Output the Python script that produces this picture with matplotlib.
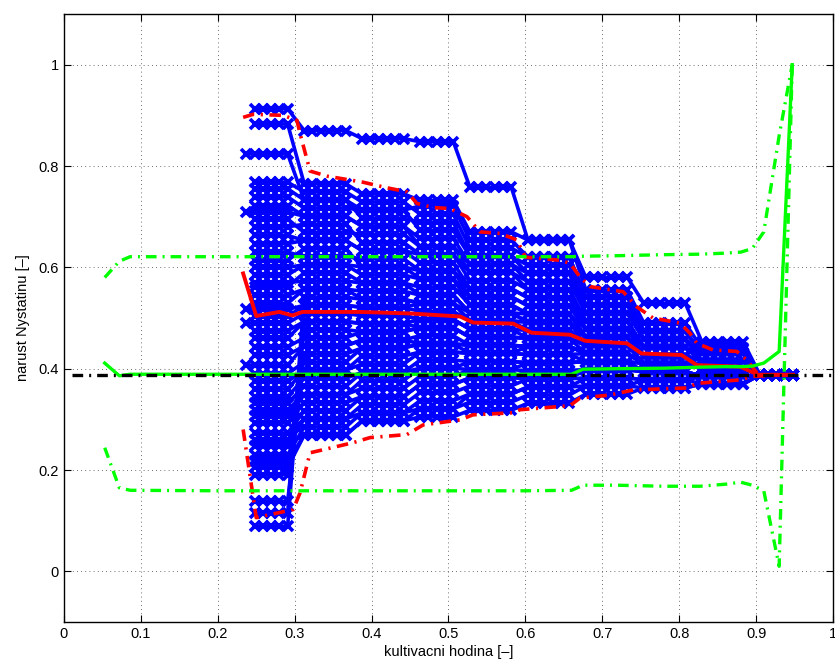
import numpy as np
import matplotlib
matplotlib.use("Agg")
import matplotlib.pyplot as plt

# sampling times of the measured trajectories
t = np.linspace(0.237, 0.948, 67)

# plateaus of the trajectories, as (first, last) sample index
bands = [(1, 5), (7, 12), (14, 19), (21, 25), (27, 32), (34, 39),
         (41, 46), (48, 53), (55, 60), (62, 66)]

end_level = 0.388
early_start = [2, 7, 20, 22, 27]

# level of every blue trajectory on each plateau (last plateau = end_level)
blue_levels = [
    [0.913, 0.870, 0.854, 0.848, 0.758, 0.654, 0.580, 0.529, 0.453],
    [0.883, 0.765, 0.745, 0.732, 0.670, 0.654, 0.555, 0.490, 0.440],
    [0.824, 0.733, 0.713, 0.721, 0.654, 0.620, 0.542, 0.474, 0.430],
    [0.768, 0.749, 0.729, 0.705, 0.638, 0.620, 0.542, 0.474, 0.430],
    [0.755, 0.733, 0.697, 0.689, 0.622, 0.604, 0.526, 0.474, 0.430],
    [0.739, 0.717, 0.713, 0.673, 0.622, 0.588, 0.526, 0.458, 0.430],
    [0.722, 0.701, 0.681, 0.657, 0.606, 0.588, 0.510, 0.458, 0.430],
    [0.709, 0.701, 0.681, 0.641, 0.606, 0.572, 0.510, 0.458, 0.415],
    [0.695, 0.669, 0.665, 0.641, 0.590, 0.572, 0.510, 0.458, 0.415],
    [0.680, 0.685, 0.649, 0.625, 0.590, 0.556, 0.494, 0.442, 0.415],
    [0.663, 0.653, 0.633, 0.625, 0.574, 0.556, 0.494, 0.442, 0.415],
    [0.647, 0.653, 0.633, 0.609, 0.558, 0.540, 0.494, 0.442, 0.415],
    [0.630, 0.621, 0.617, 0.593, 0.558, 0.540, 0.478, 0.442, 0.415],
    [0.614, 0.637, 0.601, 0.593, 0.542, 0.524, 0.478, 0.442, 0.415],
    [0.600, 0.605, 0.601, 0.577, 0.542, 0.524, 0.478, 0.442, 0.415],
    [0.585, 0.605, 0.585, 0.577, 0.526, 0.508, 0.478, 0.426, 0.415],
    [0.570, 0.573, 0.569, 0.561, 0.526, 0.508, 0.462, 0.426, 0.415],
    [0.562, 0.589, 0.569, 0.545, 0.510, 0.508, 0.462, 0.426, 0.400],
    [0.545, 0.557, 0.553, 0.545, 0.510, 0.492, 0.462, 0.426, 0.400],
    [0.529, 0.557, 0.537, 0.529, 0.510, 0.492, 0.462, 0.426, 0.400],
    [0.517, 0.525, 0.521, 0.529, 0.494, 0.492, 0.446, 0.426, 0.400],
    [0.503, 0.525, 0.521, 0.513, 0.494, 0.476, 0.446, 0.426, 0.400],
    [0.490, 0.509, 0.505, 0.497, 0.478, 0.476, 0.446, 0.426, 0.400],
    [0.475, 0.493, 0.489, 0.497, 0.478, 0.460, 0.446, 0.410, 0.400],
    [0.460, 0.493, 0.489, 0.481, 0.462, 0.460, 0.446, 0.410, 0.400],
    [0.443, 0.461, 0.473, 0.481, 0.462, 0.460, 0.430, 0.410, 0.400],
    [0.427, 0.445, 0.457, 0.465, 0.446, 0.444, 0.430, 0.410, 0.400],
    [0.407, 0.445, 0.457, 0.449, 0.446, 0.444, 0.430, 0.410, 0.400],
    [0.390, 0.413, 0.441, 0.449, 0.430, 0.444, 0.430, 0.410, 0.400],
    [0.375, 0.397, 0.425, 0.433, 0.430, 0.428, 0.430, 0.410, 0.400],
    [0.360, 0.397, 0.409, 0.433, 0.430, 0.428, 0.414, 0.410, 0.400],
    [0.345, 0.381, 0.393, 0.417, 0.414, 0.412, 0.414, 0.410, 0.400],
    [0.332, 0.365, 0.393, 0.401, 0.414, 0.412, 0.414, 0.394, 0.385],
    [0.319, 0.349, 0.377, 0.401, 0.398, 0.412, 0.414, 0.394, 0.385],
    [0.306, 0.349, 0.361, 0.385, 0.398, 0.396, 0.398, 0.394, 0.385],
    [0.293, 0.333, 0.345, 0.369, 0.382, 0.396, 0.398, 0.394, 0.385],
    [0.273, 0.317, 0.345, 0.369, 0.382, 0.380, 0.398, 0.394, 0.385],
    [0.260, 0.301, 0.329, 0.353, 0.366, 0.380, 0.382, 0.378, 0.385],
    [0.247, 0.301, 0.313, 0.337, 0.350, 0.364, 0.382, 0.378, 0.385],
    [0.230, 0.285, 0.313, 0.321, 0.350, 0.364, 0.366, 0.378, 0.370],
    [0.217, 0.269, 0.297, 0.321, 0.334, 0.348, 0.366, 0.362, 0.370],
    [0.205, 0.269, 0.297, 0.305, 0.318, 0.332, 0.350, 0.362, 0.370],
    [0.191, 0.477, 0.473, 0.481, 0.462, 0.460, 0.446, 0.426, 0.400],
    [0.138, 0.429, 0.441, 0.449, 0.446, 0.444, 0.430, 0.410, 0.400],
    [0.115, 0.541, 0.537, 0.529, 0.494, 0.492, 0.462, 0.426, 0.400],
    [0.089, 0.509, 0.505, 0.497, 0.478, 0.476, 0.446, 0.426, 0.415],
]

red_mean_x = [0.233, 0.250, 0.280, 0.297, 0.310, 0.385, 0.450, 0.515, 0.532, 0.584,
              0.608, 0.658, 0.678, 0.732, 0.751, 0.803, 0.823, 0.879, 0.903, 0.948]
red_mean_y = [0.588, 0.504, 0.512, 0.505, 0.512, 0.512, 0.509, 0.503, 0.491, 0.489,
              0.471, 0.467, 0.455, 0.450, 0.430, 0.427, 0.407, 0.404, 0.388, 0.388]

red_hi_x = [0.233, 0.246, 0.285, 0.303, 0.307, 0.320, 0.342, 0.389, 0.420, 0.446, 0.459,
            0.480, 0.502, 0.524, 0.541, 0.567, 0.589, 0.600, 0.645, 0.658, 0.671, 0.684,
            0.727, 0.745, 0.766, 0.801, 0.814, 0.823, 0.844, 0.875, 0.888, 0.903, 0.948]
red_hi_y = [0.896, 0.902, 0.900, 0.890, 0.864, 0.790, 0.780, 0.768, 0.757, 0.749, 0.726,
            0.718, 0.716, 0.700, 0.670, 0.667, 0.654, 0.620, 0.614, 0.608, 0.581, 0.562,
            0.552, 0.522, 0.500, 0.490, 0.470, 0.450, 0.437, 0.434, 0.417, 0.388, 0.388]

red_lo_x = [0.233, 0.250, 0.298, 0.307, 0.320, 0.337, 0.376, 0.398, 0.446, 0.467, 0.515,
            0.532, 0.584, 0.593, 0.658, 0.671, 0.710, 0.740, 0.810, 0.823, 0.879, 0.896, 0.948]
red_lo_y = [0.280, 0.106, 0.122, 0.155, 0.234, 0.240, 0.254, 0.264, 0.270, 0.289, 0.299,
            0.309, 0.313, 0.319, 0.327, 0.342, 0.348, 0.358, 0.362, 0.371, 0.378, 0.385, 0.388]

green_x = [0.053, 0.072, 0.086, 0.200, 0.300, 0.400, 0.500, 0.600, 0.660, 0.675,
           0.720, 0.780, 0.827, 0.860, 0.880, 0.895, 0.910, 0.930, 0.947]
green_mid = [0.411, 0.386, 0.389, 0.389, 0.389, 0.389, 0.389, 0.389, 0.389, 0.399,
             0.400, 0.401, 0.403, 0.404, 0.404, 0.405, 0.411, 0.434, 1.000]
green_hi = [0.580, 0.612, 0.621, 0.621, 0.621, 0.621, 0.621, 0.621, 0.621, 0.622,
            0.623, 0.625, 0.626, 0.628, 0.630, 0.637, 0.670, 0.860, 1.000]
green_lo = [0.244, 0.165, 0.160, 0.159, 0.159, 0.159, 0.159, 0.159, 0.160, 0.170,
            0.170, 0.168, 0.168, 0.172, 0.176, 0.170, 0.159, 0.010, 1.000]

ref_x = [0.01, 1.0]
ref_y = [0.388, 0.388]


def trajectory(levels, early):
    xs, ys = [], []
    if early:
        xs.append(t[0])
        ys.append(levels[0])
    for (a, b), lev in zip(bands, list(levels) + [end_level]):
        for k in range(a, b + 1):
            xs.append(t[k])
            ys.append(lev)
    return xs, ys


plt.rcParams['font.family'] = ['Liberation Sans', 'DejaVu Sans']
plt.rcParams['font.size'] = 10

fig = plt.figure(figsize=(8.35, 6.7), dpi=100)
ax = fig.add_axes([0.0766, 0.0716, 0.921, 0.9075])

dashdot = (3.2, 1.8, 0.6, 1.8)

for i, lev in enumerate(blue_levels):
    xs, ys = trajectory(lev, i in early_start)
    ax.plot(xs, ys, color='blue', lw=2.6, marker='x', ms=6.5, mew=2.6, zorder=2)

ax.plot(red_mean_x, red_mean_y, color='red', lw=2.8, zorder=3)
ax.plot(red_hi_x, red_hi_y, color='red', lw=2.6, dashes=dashdot, zorder=3)
ax.plot(red_lo_x, red_lo_y, color='red', lw=2.6, dashes=dashdot, zorder=3)

ax.plot(green_x, green_mid, color=(0, 1, 0), lw=2.4, zorder=4)
ax.plot(green_x, green_hi, color=(0, 1, 0), lw=2.4, dashes=dashdot, zorder=4)
ax.plot(green_x, green_lo, color=(0, 1, 0), lw=2.4, dashes=dashdot, zorder=4)

ax.plot(ref_x, ref_y, color='black', lw=2.4, dashes=dashdot, zorder=5)

ax.set_xlim(0, 1)
ax.set_ylim(-0.1, 1.1)
ax.set_xticks(np.arange(0, 1.01, 0.1))
ax.set_xticklabels(['0', '0.1', '0.2', '0.3', '0.4', '0.5', '0.6', '0.7', '0.8', '0.9', '1'])
ax.set_yticks([0, 0.2, 0.4, 0.6, 0.8, 1.0])
ax.set_yticklabels(['0', '0.2', '0.4', '0.6', '0.8', '1'])
ax.tick_params(direction='in', top=True, right=True, length=5, width=0.8, labelsize=10.5)
ax.grid(True, color='0.25', linestyle=(0, (1, 4)), lw=0.6)
ax.set_axisbelow(True)
for s in ax.spines.values():
    s.set_linewidth(1.0)

ax.set_xlabel('kultivacni hodina [–]', fontsize=10.5, labelpad=3)
ax.set_ylabel('narust Nystatinu [–]', fontsize=10.5, labelpad=6)

fig.savefig('out.png', dpi=100)
